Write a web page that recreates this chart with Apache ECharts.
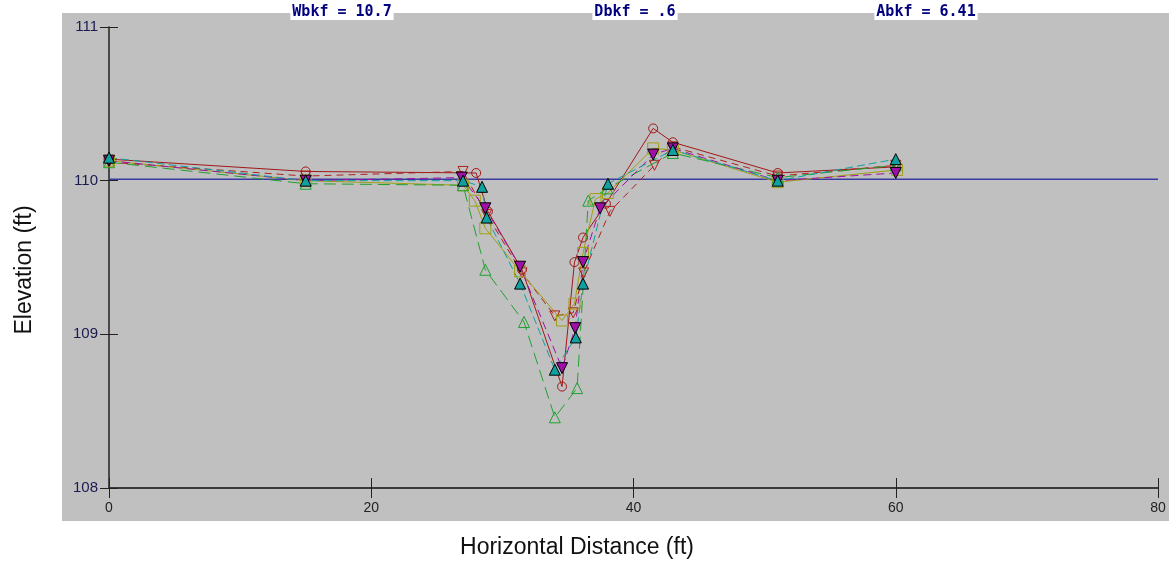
<!DOCTYPE html>
<html>
<head>
<meta charset="utf-8">
<title>Cross Section</title>
<script src="https://cdn.jsdelivr.net/npm/echarts@6/dist/echarts.min.js"></script>
<style>
  html, body { margin: 0; padding: 0; background: #ffffff; }
  #chart { width: 1169px; height: 567px; }
</style>
</head>
<body>
<div id="chart"></div>
<script>
// Cross-section survey data: station (ft) and elevation (ft) for each survey
const xTicks = [0, 20, 40, 60, 80];
const yTicks = [108, 109, 110, 111];

const bankfullElevation = 110.01;
const summaryLabels = ['Wbkf = 10.7', 'Dbkf = .6', 'Abkf = 6.41'];
const xTitle = 'Horizontal Distance (ft)';
const yTitle = 'Elevation (ft)';

const surveyAStation = [0, 15, 28.0, 28.9, 31.5, 34.55, 35.5, 36.15, 37.9, 41.5, 43.0, 51.0, 60.0];
const surveyAElev    = [110.14, 110.06, 110.05, 109.80, 109.42, 108.66, 109.47, 109.63, 109.85, 110.34, 110.25, 110.05, 110.09];

const surveyFStation = [0, 15, 27.0, 28.8, 31.5, 34.0, 35.4, 36.2, 38.2, 41.6, 43.0, 51.0, 60.0];
const surveyFElev    = [110.12, 110.03, 110.06, 109.78, 109.40, 109.12, 109.14, 109.40, 109.80, 110.10, 110.22, 110.03, 110.10];

const surveyBStation = [0, 15, 27.0, 27.9, 28.7, 31.35, 34.55, 35.5, 36.15, 37.1, 38.05, 41.5, 43.0, 51.0, 60.1];
const surveyBElev    = [110.13, 110.00, 109.97, 109.87, 109.69, 109.41, 109.09, 109.20, 109.53, 109.88, 109.92, 110.21, 110.20, 109.99, 110.07];

const surveyCStation = [0, 15, 27.0, 28.7, 31.65, 34.0, 35.7, 36.55, 38.0, 43.0, 51.0, 60.0];
const surveyCElev    = [110.12, 109.98, 109.97, 109.42, 109.08, 108.46, 108.65, 109.87, 109.95, 110.18, 110.02, 110.10];

const surveyDStation = [0, 15, 26.9, 28.7, 31.35, 34.55, 35.55, 36.15, 37.45, 41.5, 43.0, 51.0, 60.0];
const surveyDElev    = [110.13, 110.00, 110.02, 109.82, 109.44, 108.78, 109.04, 109.47, 109.82, 110.17, 110.21, 110.00, 110.05];

const surveyEStation = [0, 15, 27.0, 28.45, 28.8, 31.35, 34.0, 35.6, 36.15, 38.05, 43.0, 51.0, 60.0];
const surveyEElev    = [110.15, 110.00, 110.00, 109.96, 109.76, 109.33, 108.77, 108.98, 109.33, 109.98, 110.20, 110.00, 110.14];

function pairs(xs, ys) { return xs.map((x, i) => [x, ys[i]]); }

const chart = echarts.init(document.getElementById('chart'), null, { renderer: 'canvas' });

function survey(name, xs, ys, color, symbol, opts) {
  const hollow = opts.hollow;
  return {
    name: name,
    type: 'line',
    xAxisIndex: 0,
    yAxisIndex: 0,
    data: pairs(xs, ys),
    symbol: symbol,
    symbolSize: opts.size || 10,
    symbolRotate: opts.rotate || 0,
    showAllSymbol: true,
    animation: false,
    lineStyle: { color: color, width: 1, type: opts.dash || 'solid' },
    itemStyle: hollow
      ? { color: 'rgba(0,0,0,0)', borderColor: color, borderWidth: 1 }
      : { color: color, borderColor: '#000000', borderWidth: 1 },
    emphasis: { disabled: true },
    z: opts.z || 3
  };
}

const series = [
  survey('survey A', surveyAStation, surveyAElev, '#a01818', 'circle', { hollow: true, size: 9 }),
  survey('survey F', surveyFStation, surveyFElev, '#b02020', 'triangle', { hollow: true, size: 10, rotate: 180, dash: [7, 5] }),
  survey('survey B', surveyBStation, surveyBElev, '#a0a010', 'rect', { hollow: true, size: 11 }),
  survey('survey C', surveyCStation, surveyCElev, '#20a030', 'triangle', { hollow: true, size: 11, dash: [12, 6] }),
  survey('survey D', surveyDStation, surveyDElev, '#a010a8', 'triangle', { hollow: false, size: 11, rotate: 180, dash: [8, 5] }),
  survey('survey E', surveyEStation, surveyEElev, '#10a0a0', 'triangle', { hollow: false, size: 11, dash: [8, 4] }),
  {
    name: 'bankfull',
    type: 'line',
    data: [[xTicks[0], bankfullElevation], [xTicks[xTicks.length - 1], bankfullElevation]],
    symbol: 'none',
    animation: false,
    lineStyle: { color: '#3a3aa0', width: 1.5 },
    z: 2
  }
];

const labelCenters = [342, 635, 926];

chart.setOption({
  backgroundColor: '#ffffff',
  animation: false,
  graphic: [
    {
      type: 'rect',
      shape: { x: 62, y: 13, width: 1107, height: 508 },
      style: { fill: '#c0c0c0' },
      z: -10,
      silent: true
    },
    {
      type: 'text',
      x: 577,
      y: 548,
      style: {
        text: xTitle,
        fill: '#111',
        font: '23px "Liberation Sans", Arial, sans-serif',
        align: 'center',
        verticalAlign: 'middle'
      }
    },
    {
      type: 'text',
      x: 25,
      y: 270,
      rotation: Math.PI / 2,
      style: {
        text: yTitle,
        fill: '#111',
        font: '23px "Liberation Sans", Arial, sans-serif',
        align: 'center',
        verticalAlign: 'middle'
      }
    }
  ].concat(summaryLabels.map((t, i) => ({
    type: 'text',
    x: labelCenters[i],
    y: 12,
    z: 10,
    style: {
      text: t,
      fill: '#000080',
      font: 'bold 15px "DejaVu Sans Mono", monospace',
      align: 'center',
      verticalAlign: 'middle',
      backgroundColor: '#ffffff',
      padding: [1, 2, 0, 2]
    }
  }))),
  grid: { left: 109, right: 11, top: 27, bottom: 79, containLabel: false },
  xAxis: [
    {
      type: 'value',
      min: xTicks[0],
      max: xTicks[xTicks.length - 1],
      interval: 20,
      axisLine: { show: true, onZero: false, lineStyle: { color: '#3a3a3a', width: 2 } },
      axisTick: { show: true, length: 10, lineStyle: { color: '#222', width: 1 } },
      axisLabel: { color: '#222', fontSize: 14, fontFamily: 'Liberation Sans Narrow, Liberation Sans, Arial', margin: 13 },
      splitLine: { show: false }
    },
    {
      type: 'value',
      min: xTicks[0],
      max: xTicks[xTicks.length - 1],
      interval: 20,
      position: 'bottom',
      axisLine: { show: false },
      axisTick: { show: true, inside: true, length: 10, lineStyle: { color: '#222', width: 1 } },
      axisLabel: { show: false },
      splitLine: { show: false }
    }
  ],
  yAxis: [
    {
      type: 'value',
      min: yTicks[0],
      max: yTicks[yTicks.length - 1],
      interval: 1,
      axisLine: { show: true, onZero: false, lineStyle: { color: '#222', width: 1.5 } },
      axisTick: { show: true, length: 9, lineStyle: { color: '#222', width: 1 } },
      axisLabel: { color: '#1a1a50', fontSize: 15, fontFamily: 'Liberation Sans, Arial', margin: 11 },
      splitLine: { show: false }
    },
    {
      type: 'value',
      min: yTicks[0],
      max: yTicks[yTicks.length - 1],
      interval: 1,
      position: 'left',
      axisLine: { show: false },
      axisTick: { show: true, inside: true, length: 9, lineStyle: { color: '#222', width: 1 } },
      axisLabel: { show: false },
      splitLine: { show: false }
    }
  ],
  series: series
});
</script>
</body>
</html>
